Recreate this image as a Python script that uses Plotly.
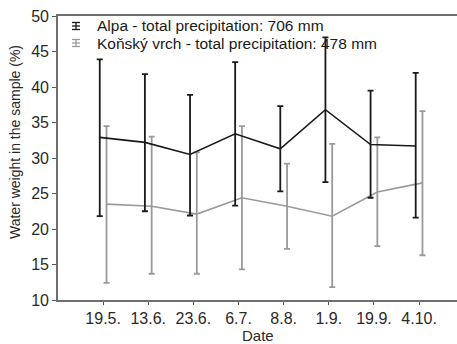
import plotly.graph_objects as go

# Sampling dates
dates = ["19.5.", "13.6.", "23.6.", "6.7.", "8.8.", "1.9.", "19.9.", "4.10."]

# Alpa: mean water weight with upper / lower whisker ends (%)
alpa_mean = [32.9, 32.2, 30.5, 33.4, 31.3, 36.8, 31.9, 31.7]
alpa_upper = [43.9, 41.8, 38.9, 43.5, 37.3, 47.0, 39.5, 42.0]
alpa_lower = [21.8, 22.5, 21.9, 23.3, 25.3, 26.6, 24.4, 21.6]

# Koňský vrch: mean water weight with upper / lower whisker ends (%)
kon_mean = [23.5, 23.2, 22.1, 24.4, 23.2, 21.8, 25.2, 26.5]
kon_upper = [34.5, 33.0, 30.8, 34.5, 29.2, 32.0, 32.9, 36.6]
kon_lower = [12.4, 13.7, 13.7, 14.3, 17.2, 11.8, 17.6, 16.3]

legend_alpa = "Alpa - total precipitation: 706 mm"
legend_kon = "Koňský vrch - total precipitation: 478 mm"

W, H = 457, 344
ML, MR, MT, MB = 58, 0, 16, 44
PW, PH = W - ML - MR, H - MT - MB

def px_x(p):
    return (p - ML) / PW

def px_y(p):
    return (H - MB - p) / PH

BLACK = "#1a1a1a"
GREY = "#9a9a9a"
FONT = "Liberation Sans, Arial, sans-serif"

idx = list(range(len(dates)))
dodge = 0.075

def series(mean, upper, lower, dx, color, symbol):
    return go.Scatter(
        x=[i + dx for i in idx],
        y=mean,
        mode="lines+markers",
        line=dict(color=color, width=1.6),
        marker=dict(symbol=symbol, size=7, color="rgba(0,0,0,0)",
                    line=dict(color=color, width=1.4)),
        error_y=dict(type="data", symmetric=False,
                     array=[u - m for u, m in zip(upper, mean)],
                     arrayminus=[m - l for m, l in zip(mean, lower)],
                     color=color, thickness=1.8, width=3),
        showlegend=False,
        hoverinfo="skip",
    )

fig = go.Figure()
fig.add_trace(series(kon_mean, kon_upper, kon_lower, dodge, GREY, "square-open"))
fig.add_trace(series(alpa_mean, alpa_upper, alpa_lower, -dodge, BLACK, "circle-open"))

fig.update_layout(
    width=W, height=H,
    margin=dict(l=ML, r=MR, t=MT, b=MB, pad=0),
    paper_bgcolor="white", plot_bgcolor="white",
    font=dict(family=FONT, size=15, color="#2a2a2a"),
    xaxis=dict(
        range=[-1.0, 7.84], tickvals=idx, ticktext=dates,
        showline=True, linecolor="#6e6e6e", linewidth=1.6, mirror=True,
        ticks="outside", ticklen=3, tickcolor="#555", tickwidth=1.2,
        showgrid=False, zeroline=False, tickfont=dict(size=16),
    ),
    yaxis=dict(
        range=[10, 50], dtick=5,
        showline=True, linecolor="#6e6e6e", linewidth=1.6,
        ticks="outside", ticklen=4, tickcolor="#555", tickwidth=1.2,
        showgrid=False, zeroline=False, tickfont=dict(size=16),
    ),
)

# Axis titles
fig.add_annotation(text="Water weight in the sample (%)", textangle=-90,
                   xref="paper", yref="paper", x=px_x(15), y=px_y(142),
                   xanchor="center", yanchor="middle", showarrow=False,
                   font=dict(size=14))
fig.add_annotation(text="Date", xref="paper", yref="paper",
                   x=0.5, y=px_y(335), xanchor="center", yanchor="middle",
                   showarrow=False, font=dict(size=15))

# Legend: error-bar glyph + label for each site
for row_y, color, label in [(26, BLACK, legend_alpa), (43, GREY, legend_kon)]:
    cx = 76
    for dy in (-3.5, 0, 3.5):
        fig.add_shape(type="line", xref="paper", yref="paper",
                      x0=px_x(cx - 4), x1=px_x(cx + 4),
                      y0=px_y(row_y + dy), y1=px_y(row_y + dy),
                      line=dict(color=color, width=1.3))
    fig.add_shape(type="line", xref="paper", yref="paper",
                  x0=px_x(cx), x1=px_x(cx),
                  y0=px_y(row_y - 3.5), y1=px_y(row_y + 3.5),
                  line=dict(color=color, width=1.3))
    fig.add_annotation(text=label, xref="paper", yref="paper",
                       x=px_x(95), y=px_y(row_y), xanchor="left",
                       yanchor="middle", showarrow=False,
                       font=dict(size=15.5, color="#1a1a1a"))

fig.write_html("out.html")
